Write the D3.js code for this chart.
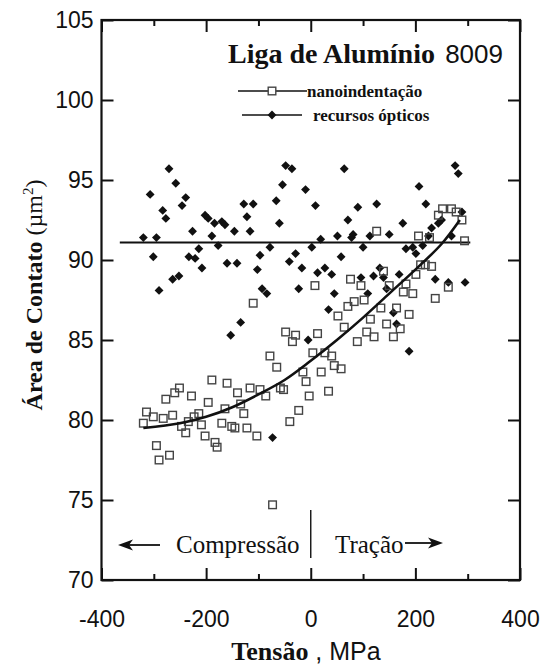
<!DOCTYPE html>
<html>
<head>
<meta charset="utf-8">
<script src="https://cdn.jsdelivr.net/npm/d3@7"></script>
<style>
  body { margin: 0; background: #fff; }
  svg text { fill: #111; }
</style>
</head>
<body>
<svg id="chart" width="547" height="671"></svg>
<script>
// Nanoindentation measurements: stress (MPa) and contact area (µm²)
const nanoStress = [
  -189, -160, -251, -260, -277, -228, -140, -116, -97, -86, -58, -52, -15, -9, -3, -23, -40,
  -196, -164, -134, -128, -214, -264, -282, -301, -314, -320, -234, -247, -239, -223, -209,
  -202, -183, -179, -170, -151, -145, -122, -103, -295, -270, -290, -73,
  -110, 8, -48, -29, -35, 13, -78, -65, 4, 27, 40, 45, 58, 20, 34,
  76, 96, 150, 201, 182, 177, 195, 238, 263, 83, 102, 71, 134, 164, 52, 188, 64, 114, 145,
  171, 107, 121, 89, 158, 126, 206, 227, 294, 252, 269, 278, 289, 244, 210, 219, 231, 139
];
const nanoArea = [
  82.5, 82.3, 82.0, 81.7, 81.3, 81.5, 81.7, 82.0, 81.9, 81.5, 82.0, 81.9, 83.0, 82.4, 81.5, 80.6, 79.9,
  81.1, 80.7, 81.0, 80.4, 80.4, 80.3, 80.1, 80.2, 80.5, 79.8, 79.9, 79.6, 79.2, 80.2, 79.7,
  79.0, 78.6, 78.3, 79.8, 79.6, 79.5, 79.5, 79.0, 78.4, 77.8, 77.5, 74.7,
  87.3, 88.4, 85.5, 85.3, 84.9, 85.4, 84.0, 83.3, 84.2, 84.2, 84.0, 83.4, 83.2, 83.0, 81.8,
  88.8, 88.4, 88.4, 89.1, 88.5, 88.0, 87.9, 87.6, 88.3, 87.4, 87.5, 87.1, 87.0, 87.0, 86.5, 86.6, 85.8, 86.3, 86.0,
  85.7, 85.5, 85.2, 84.9, 85.2, 91.8, 91.5, 91.4, 91.2, 93.2, 93.2, 93.0, 92.5, 92.8, 89.7, 89.7, 89.6, 89.3
];

// Optical measurements: stress (MPa) and contact area (µm²)
const opticStress = [
  -271, -307, -258, -239, -246, -283, -277, -320, -295, -301, -290, -264, -252, -226, -214, -233,
  -221, -208, -202, -196, -184, -170, -164, -189, -177, -160, -141, -146, -128, -110, -122, -116,
  -97, -102, -93, -84, -134, -153, -78, -66, -60, -54, -48, -36, -10, 9, -29, -41, -17, -23, 2, 13, -5, -73,
  19, 27, 40, 45, 34, 51, 58, 64, 71, 90, 78, 81, 100, 96, 109, 113, 120, 126, 132, 139, 145, 150,
  158, 164, 169, 176, 182, 188, 195, 201, 207, 214, 220, 225, 231, 238, 244, 250, 263, 269, 276, 282, 289, 295
];
const opticArea = [
  95.7, 94.1, 94.8, 93.9, 93.4, 93.1, 92.6, 91.4, 91.4, 90.2, 88.1, 88.8, 89.0, 91.8, 90.7, 90.2,
  90.1, 89.5, 92.8, 92.6, 92.3, 92.4, 92.2, 91.5, 90.9, 89.8, 89.8, 91.8, 93.5, 93.5, 92.7, 91.8,
  90.3, 89.4, 88.2, 87.9, 86.1, 85.3, 90.8, 93.7, 92.3, 94.7, 95.9, 95.7, 94.4, 93.4, 90.4, 89.9, 89.5, 88.2, 90.8, 89.2, 85.0, 78.9,
  91.3, 89.5, 89.1, 87.9, 86.9, 91.5, 90.2, 95.7, 92.5, 93.3, 91.4, 91.6, 90.8, 88.9, 87.9, 91.5, 89.0, 93.5, 89.5, 88.9, 88.2, 91.6,
  86.7, 86.0, 89.1, 92.3, 90.7, 84.3, 90.8, 90.4, 94.6, 90.9, 93.5, 91.5, 92.0, 88.8, 92.3, 92.5, 88.6, 91.5, 95.9, 95.4, 93.0, 88.6
];

// Fitted trend for the nanoindentation data
const nanoFitStress = [-320, -250, -200, -150, -100, -50, 0, 50, 100, 150, 200, 250, 285];
const nanoFitArea   = [79.5, 79.8, 80.2, 80.8, 81.6, 82.5, 83.7, 85.0, 86.4, 87.9, 89.4, 91.0, 92.5];

// Mean level of the optical data
const opticMeanStress = [-365, 305];
const opticMeanArea   = [91.1, 91.1];

// Axis ticks
const xMajorTicks = [-400, -200, 0, 200, 400];
const xMinorTicks = [-300, -100, 100, 300];
const yTicks = [70, 75, 80, 85, 90, 95, 100, 105];

const serif = "'Liberation Serif', 'Times New Roman', serif";
const sans = "'Liberation Sans', Arial, sans-serif";

const svg = d3.select("#chart");
const x = d3.scaleLinear().domain([-400, 400]).range([101.5, 520]);
const y = d3.scaleLinear().domain([70, 105]).range([580, 20]);

// ---- axes (ticks point inward on all four sides) ----
function styleAxis(g) {
  g.select(".domain").remove();
  g.selectAll(".tick line").attr("stroke", "#111").attr("stroke-width", 2);
  g.selectAll(".tick text").attr("font-family", sans).attr("font-size", 23).attr("fill", "#111");
}
const plain = d => String(d);

svg.append("g").attr("transform", "translate(0,580)")
  .call(d3.axisBottom(x).tickValues(xMajorTicks).tickSizeInner(-12).tickSizeOuter(0)
        .tickPadding(31).tickFormat(plain))
  .call(styleAxis);
svg.append("g").attr("transform", "translate(0,580)")
  .call(d3.axisBottom(x).tickValues(xMinorTicks).tickSizeInner(-6).tickSizeOuter(0).tickFormat(""))
  .call(styleAxis);
svg.append("g").attr("transform", "translate(0,20)")
  .call(d3.axisTop(x).tickValues(xMajorTicks).tickSizeInner(-12).tickSizeOuter(0).tickFormat(""))
  .call(styleAxis);
svg.append("g").attr("transform", "translate(0,20)")
  .call(d3.axisTop(x).tickValues(xMinorTicks).tickSizeInner(-6).tickSizeOuter(0).tickFormat(""))
  .call(styleAxis);
svg.append("g").attr("transform", "translate(101.5,0)")
  .call(d3.axisLeft(y).tickValues(yTicks).tickSizeInner(-12).tickSizeOuter(0).tickPadding(8).tickFormat(plain))
  .call(styleAxis);
svg.append("g").attr("transform", "translate(520,0)")
  .call(d3.axisRight(y).tickValues(yTicks).tickSizeInner(-12).tickSizeOuter(0).tickFormat(""))
  .call(styleAxis);

// frame
svg.append("rect")
  .attr("x", x(-400)).attr("y", y(105))
  .attr("width", x(400) - x(-400)).attr("height", y(70) - y(105))
  .attr("fill", "none").attr("stroke", "#111").attr("stroke-width", 2.2);

// ---- marker shapes ----
const squareHalf = 3.8;
const diamond = d3.symbol().type(d3.symbolDiamond2).size(50);

// optical mean line
svg.append("path")
  .datum(opticMeanStress.map((s, i) => [s, opticMeanArea[i]]))
  .attr("d", d3.line().x(d => x(d[0])).y(d => y(d[1])))
  .attr("fill", "none").attr("stroke", "#111").attr("stroke-width", 2);

// optical points (filled diamonds)
svg.append("g").selectAll("path")
  .data(opticStress.map((s, i) => [s, opticArea[i]]))
  .join("path")
  .attr("d", diamond)
  .attr("transform", d => `translate(${x(d[0])},${y(d[1])})`)
  .attr("fill", "#111");

// nanoindentation points (open squares)
svg.append("g").selectAll("rect")
  .data(nanoStress.map((s, i) => [s, nanoArea[i]]))
  .join("rect")
  .attr("x", d => x(d[0]) - squareHalf).attr("y", d => y(d[1]) - squareHalf)
  .attr("width", squareHalf * 2).attr("height", squareHalf * 2)
  .attr("fill", "none").attr("stroke", "#444").attr("stroke-width", 1.4);

// nanoindentation trend curve
svg.append("path")
  .datum(nanoFitStress.map((s, i) => [s, nanoFitArea[i]]))
  .attr("d", d3.line().x(d => x(d[0])).y(d => y(d[1])).curve(d3.curveCatmullRom))
  .attr("fill", "none").attr("stroke", "#111").attr("stroke-width", 2.6);

// ---- title ----
svg.append("text").attr("x", 228).attr("y", 63)
  .attr("font-family", serif).attr("font-weight", "bold").attr("font-size", 28)
  .text("Liga de Alumínio");
svg.append("text").attr("x", 503).attr("y", 63).attr("text-anchor", "end")
  .attr("font-family", sans).attr("font-size", 26)
  .text("8009");

// ---- legend ----
const legend = svg.append("g");
legend.append("line").attr("x1", 238).attr("x2", 307).attr("y1", 91).attr("y2", 91)
  .attr("stroke", "#111").attr("stroke-width", 1.6);
legend.append("rect").attr("x", 272 - squareHalf).attr("y", 91 - squareHalf)
  .attr("width", squareHalf * 2).attr("height", squareHalf * 2)
  .attr("fill", "#fff").attr("stroke", "#444").attr("stroke-width", 1.4);
legend.append("text").attr("x", 307).attr("y", 97)
  .attr("font-family", serif).attr("font-weight", "bold").attr("font-size", 17)
  .text("nanoindentação");
legend.append("line").attr("x1", 242).attr("x2", 302).attr("y1", 115).attr("y2", 115)
  .attr("stroke", "#111").attr("stroke-width", 1.6);
legend.append("path").attr("d", diamond).attr("transform", "translate(272,115)").attr("fill", "#111");
legend.append("text").attr("x", 313).attr("y", 121)
  .attr("font-family", serif).attr("font-weight", "bold").attr("font-size", 17)
  .text("recursos ópticos");

// ---- compression / tension annotation ----
const ann = svg.append("g");
ann.append("text").attr("x", 176).attr("y", 553)
  .attr("font-family", serif).attr("font-size", 25).text("Compressão");
ann.append("text").attr("x", 335).attr("y", 553)
  .attr("font-family", serif).attr("font-size", 25).text("Tração");
ann.append("line").attr("x1", x(0)).attr("x2", x(0)).attr("y1", 510).attr("y2", 558)
  .attr("stroke", "#111").attr("stroke-width", 1.4);
// left arrow
ann.append("line").attr("x1", 128).attr("x2", 160).attr("y1", 545).attr("y2", 545)
  .attr("stroke", "#111").attr("stroke-width", 1.8);
ann.append("path").attr("d", "M118,545 L133,539.5 L129,545 L133,550.5 Z").attr("fill", "#111");
// right arrow
ann.append("line").attr("x1", 405).attr("x2", 433).attr("y1", 543).attr("y2", 543)
  .attr("stroke", "#111").attr("stroke-width", 1.8);
ann.append("path").attr("d", "M443,543 L428,537.5 L432,543 L428,548.5 Z").attr("fill", "#111");

// ---- axis titles ----
const xTitle = svg.append("text").attr("x", 306).attr("y", 660).attr("text-anchor", "middle");
xTitle.append("tspan").attr("font-family", serif).attr("font-weight", "bold").attr("font-size", 26).text("Tensão");
xTitle.append("tspan").attr("font-family", sans).attr("font-size", 25).text(" , MPa");

const yTitle = svg.append("text")
  .attr("transform", "translate(42,295) rotate(-90)")
  .attr("text-anchor", "middle").attr("font-size", 24);
yTitle.append("tspan").attr("font-family", serif).attr("font-weight", "bold").text("Área de Contato ");
yTitle.append("tspan").attr("font-family", serif).text("(µm");
yTitle.append("tspan").attr("font-family", serif).attr("font-size", 15).attr("dy", -9).text("2");
yTitle.append("tspan").attr("font-family", serif).attr("dy", 9).text(")");
</script>
</body>
</html>
